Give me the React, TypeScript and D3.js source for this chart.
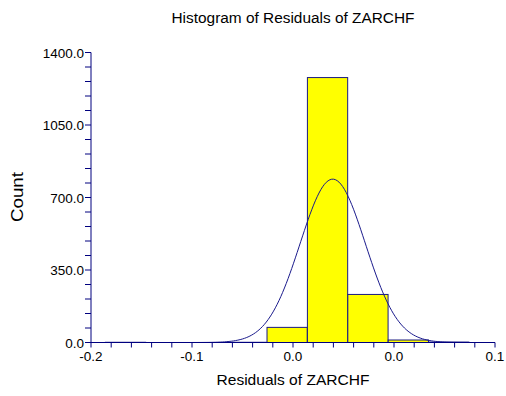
import React from "react";
import * as d3 from "d3";

const binStarts = [-0.1893, -0.1593, -0.1293, -0.0993, -0.0693, -0.0393, -0.0093, 0.0207, 0.0507];
const binCounts = [1, 0, 0, 1, 73, 1279, 232, 12, 2];
const binWidth = 0.0299;
const fitMean = -0.0205;
const fitSd = 0.0242;
const xTickValues = [-0.2, -0.125, -0.05, 0.025, 0.1];
const xTickLabels = ["-0.2", "-0.1", "0.0", "0.0", "0.1"];
const yTickValues = [0, 350, 700, 1050, 1400];
const yTickLabels = ["0.0", "350.0", "700.0", "1050.0", "1400.0"];

const W = 506, H = 396;
const M = { left: 91, right: 11, top: 52.5, bottom: 53.5 };
const AX = "#00007F";
const FONT = "'Liberation Sans', Arial, sans-serif";

export default function App() {
  const x = d3.scaleLinear().domain([-0.2, 0.1]).range([M.left, W - M.right]);
  const y = d3.scaleLinear().domain([0, 1400]).range([H - M.bottom, M.top]);
  const total = d3.sum(binCounts);
  const curvePts = d3.range(0, 201).map((i) => {
    const v = -0.19 + (0.27 * i) / 200;
    const z = (v - fitMean) / fitSd;
    const c = (total * binWidth) / (fitSd * Math.sqrt(2 * Math.PI)) * Math.exp(-0.5 * z * z);
    return [v, c] as [number, number];
  });
  const line = d3.line<[number, number]>().x((d) => x(d[0])).y((d) => y(d[1]));
  const xMinor = d3.range(0, 21).map((i) => -0.2 + (0.3 * i) / 20);
  const yMinor = d3.range(0, 21).map((i) => (1400 * i) / 20);
  const y0 = y(0);
  return (
    <svg width={W} height={H} style={{ position: "absolute", left: 0, top: 0, background: "#fff" }} fontFamily={FONT}>
      {binStarts.map((s, i) => (
        <rect key={i} x={x(s)} y={y(binCounts[i])} width={x(s + binWidth) - x(s)} height={y0 - y(binCounts[i])}
          fill="#FFFF00" stroke="#1a1a80" strokeWidth={1} />
      ))}
      <path d={line(curvePts) || ""} fill="none" stroke="#1a1a8c" strokeWidth={1} />
      <line x1={M.left} x2={M.left} y1={M.top} y2={y0} stroke={AX} />
      <line x1={M.left} x2={W - M.right} y1={y0} y2={y0} stroke={AX} />
      {xMinor.map((v, i) => (
        <line key={"xm" + i} x1={x(v)} x2={x(v)} y1={y0} y2={y0 + 5} stroke={AX} />
      ))}
      {yMinor.map((v, i) => (
        <line key={"ym" + i} x1={M.left - 6} x2={M.left} y1={y(v)} y2={y(v)} stroke={AX} />
      ))}
      {xTickValues.map((v, i) => (
        <text key={"xt" + i} x={x(v)} y={y0 + 18} textAnchor="middle" fontSize={13.5} fill="#000">{xTickLabels[i]}</text>
      ))}
      {yTickValues.map((v, i) => (
        <text key={"yt" + i} x={M.left - 7} y={y(v) + 5} textAnchor="end" fontSize={13.5} fill="#000">{yTickLabels[i]}</text>
      ))}
      <text x={293} y={23} textAnchor="middle" fontSize={15.5} textLength={243} lengthAdjust="spacingAndGlyphs" fill="#000">Histogram of Residuals of ZARCHF</text>
      <text x={293} y={385} textAnchor="middle" fontSize={15.5} textLength={153} lengthAdjust="spacingAndGlyphs" fill="#000">Residuals of ZARCHF</text>
      <text transform="translate(23,197) rotate(-90)" textAnchor="middle" fontSize={16} textLength={50} lengthAdjust="spacingAndGlyphs" fill="#000">Count</text>
    </svg>
  );
}
